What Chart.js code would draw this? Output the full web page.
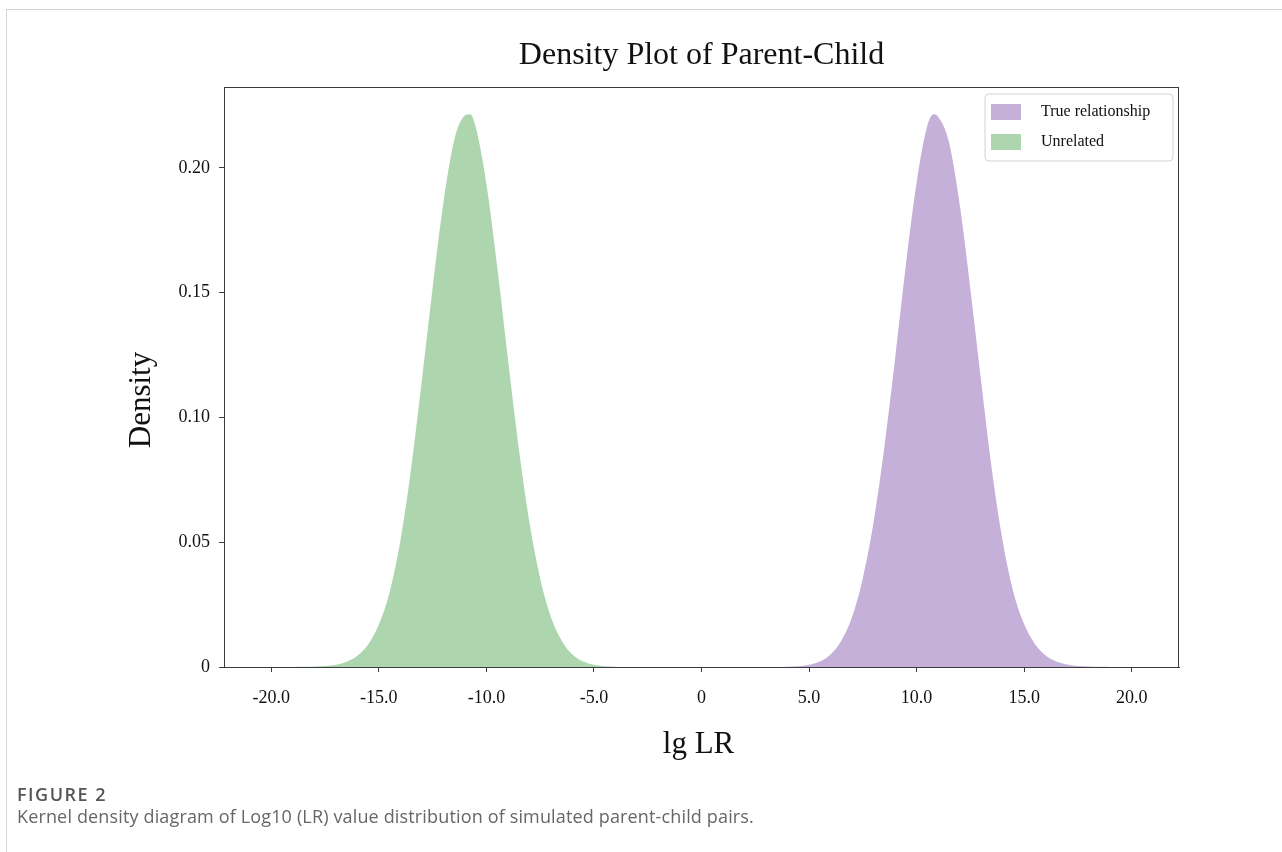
<!DOCTYPE html>
<html>
<head>
<meta charset="utf-8">
<title>Density Plot of Parent-Child</title>
<script src="https://cdn.jsdelivr.net/npm/chart.js@4.4.1/dist/chart.umd.min.js"></script>
<style>
  html, body { margin: 0; padding: 0; background: #ffffff; }
  body { width: 1282px; height: 852px; position: relative; overflow: hidden; }
  #frame {
    position: absolute; left: 6px; top: 9px; right: 0; bottom: 0;
    border-top: 1px solid #d4d4d4; border-left: 1px solid #d4d4d4;
  }
  #plot { position: absolute; left: 0; top: 0; }
  #caption {
    position: absolute; left: 17px; top: 783px;
    font-family: "Open Sans", "Noto Sans", sans-serif; color: #5e5e5e;
  }
  #caption .fig { font-size: 18px; font-weight: 600; color: #555; letter-spacing: 1.5px; line-height: 22px; }
  #caption .txt { font-size: 18px; font-weight: 400; color: #666; letter-spacing: 0.15px; line-height: 22px; }
</style>
</head>
<body>
<div id="frame"></div>
<canvas id="plot" width="1282" height="852"></canvas>
<div id="caption">
  <div class="fig">FIGURE 2</div>
  <div class="txt">Kernel density diagram of Log10 (LR) value distribution of simulated parent-child pairs.</div>
</div>
<script>
// Kernel density estimates of lg LR for the two simulated groups
const chartTitle = "Density Plot of Parent-Child";
const xAxisTitle = "lg LR";
const yAxisTitle = "Density";
const seriesNames = ["True relationship", "Unrelated"];

const trueX = [3.5, 4.0, 4.5, 5.0, 5.5, 6.0, 6.5, 7.0, 7.5, 8.0, 8.5, 9.0, 9.5, 10.0, 10.5, 10.8,
               11.0, 11.5, 12.0, 12.5, 13.0, 13.5, 14.0, 14.5, 15.0, 15.5, 16.0, 16.5, 17.0, 17.5, 18.0, 18.5, 19.0];
const trueDensity = [0.0000, 0.0001, 0.0003, 0.0009, 0.0022, 0.0050, 0.0105, 0.0200, 0.0355, 0.0580, 0.0880,
                     0.1235, 0.1610, 0.1940, 0.2170, 0.2215, 0.2205, 0.2105, 0.1855, 0.1515, 0.1145, 0.0790,
                     0.0505, 0.0300, 0.0172, 0.0092, 0.0046, 0.0022, 0.0010, 0.0004, 0.0002, 0.0001, 0.0000];

const unrelatedX = [-19.0, -18.5, -18.0, -17.5, -17.0, -16.5, -16.0, -15.5, -15.0, -14.5, -14.0, -13.5, -13.0,
                    -12.5, -12.0, -11.5, -11.0, -10.75, -10.5, -10.0, -9.5, -9.0, -8.5, -8.0, -7.5, -7.0,
                    -6.5, -6.0, -5.5, -5.0, -4.5, -4.0, -3.5];
const unrelatedDensity = [0.0000, 0.0001, 0.0002, 0.0004, 0.0009, 0.0021, 0.0045, 0.0090, 0.0170, 0.0300,
                          0.0505, 0.0795, 0.1150, 0.1520, 0.1860, 0.2110, 0.2210, 0.2215, 0.2165, 0.1935,
                          0.1605, 0.1235, 0.0880, 0.0580, 0.0355, 0.0200, 0.0105, 0.0050, 0.0022, 0.0009,
                          0.0003, 0.0001, 0.0000];

const xTickValues = [-20, -15, -10, -5, 0, 5, 10, 15, 20];
const yTickValues = [0, 0.05, 0.10, 0.15, 0.20];

const purpleFill = "#c5b0d9";
const greenFill = "#aed6ae";
const spineColor = "#3c3c3c";
const serif = "'Liberation Serif', 'Times New Roman', serif";

function toPoints(xs, ys) {
  return xs.map((x, i) => ({ x: x, y: ys[i] }));
}

// Titles, the closed box around the plotting area, and the legend
const frameAndLegend = {
  id: "frameAndLegend",
  afterDatasetsDraw(chart) {
    const { ctx, chartArea } = chart;
    const midX = (chartArea.left + chartArea.right) / 2;
    ctx.save();
    ctx.strokeStyle = spineColor;
    ctx.lineWidth = 1;
    ctx.strokeRect(Math.round(chartArea.left) + 0.5, Math.round(chartArea.top) + 0.5,
                   Math.round(chartArea.right - chartArea.left) - 1, Math.round(chartArea.bottom - chartArea.top));

    ctx.fillStyle = "#111";
    ctx.textAlign = "center";
    ctx.textBaseline = "middle";
    ctx.font = "32px " + serif;
    ctx.fillText(chartTitle, midX, 56);

    ctx.font = "31px " + serif;
    ctx.fillText(xAxisTitle, midX - 3, 745);

    ctx.save();
    ctx.translate(142, 400);
    ctx.rotate(-Math.PI / 2);
    ctx.fillText(yAxisTitle, 0, 0);
    ctx.restore();

    // legend
    const bx = chartArea.right - 194, by = chartArea.top + 7, bw = 188, bh = 67, r = 4;
    ctx.beginPath();
    ctx.moveTo(bx + r, by);
    ctx.arcTo(bx + bw, by, bx + bw, by + bh, r);
    ctx.arcTo(bx + bw, by + bh, bx, by + bh, r);
    ctx.arcTo(bx, by + bh, bx, by, r);
    ctx.arcTo(bx, by, bx + bw, by, r);
    ctx.closePath();
    ctx.fillStyle = "rgba(255,255,255,0.9)";
    ctx.fill();
    ctx.strokeStyle = "#d2d2d2";
    ctx.stroke();

    ctx.font = "16px " + serif;
    ctx.textAlign = "left";
    chart.data.datasets.forEach((ds, i) => {
      const cy = by + 18 + i * 30;
      ctx.fillStyle = ds.backgroundColor;
      ctx.fillRect(bx + 6, cy - 8, 30, 16);
      ctx.fillStyle = "#111";
      ctx.fillText(ds.label, bx + 56, cy);
    });
    ctx.restore();
  }
};

new Chart(document.getElementById("plot"), {
  type: "line",
  data: {
    datasets: [
      {
        label: seriesNames[0],
        data: toPoints(trueX, trueDensity),
        backgroundColor: purpleFill,
        borderColor: "rgba(0,0,0,0)",
        borderWidth: 0,
        fill: "origin",
        pointRadius: 0,
        cubicInterpolationMode: "monotone"
      },
      {
        label: seriesNames[1],
        data: toPoints(unrelatedX, unrelatedDensity),
        backgroundColor: greenFill,
        borderColor: "rgba(0,0,0,0)",
        borderWidth: 0,
        fill: "origin",
        pointRadius: 0,
        cubicInterpolationMode: "monotone"
      }
    ]
  },
  options: {
    responsive: false,
    devicePixelRatio: 1,
    animation: false,
    layout: { padding: { top: 87, left: 0, right: 103, bottom: 0 } },
    plugins: {
      legend: { display: false },
      tooltip: { enabled: false },
      title: { display: false }
    },
    scales: {
      x: {
        type: "linear",
        min: -22.2,
        max: 22.2,
        afterBuildTicks(scale) { scale.ticks = xTickValues.map(v => ({ value: v })); },
        afterFit(scale) { scale.height = 185; },
        ticks: {
          color: "#111",
          font: { family: serif, size: 18 },
          padding: 15,
          maxRotation: 0,
          autoSkip: false,
          callback: v => (v === 0 ? "0" : v.toFixed(1))
        },
        grid: { display: true, drawOnChartArea: false, drawTicks: true, tickLength: 5, color: spineColor },
        border: { display: true, color: spineColor },
        title: { display: false }
      },
      y: {
        type: "linear",
        min: 0,
        max: 0.2324,
        afterBuildTicks(scale) { scale.ticks = yTickValues.map(v => ({ value: v })); },
        afterFit(scale) { scale.width = 224; },
        ticks: {
          color: "#111",
          font: { family: serif, size: 18 },
          padding: 9,
          autoSkip: false,
          callback: v => (v === 0 ? "0" : v.toFixed(2))
        },
        grid: { display: true, drawOnChartArea: false, drawTicks: true, tickLength: 5, color: spineColor },
        border: { display: true, color: spineColor },
        title: { display: false }
      }
    }
  },
  plugins: [frameAndLegend]
});
</script>
</body>
</html>
